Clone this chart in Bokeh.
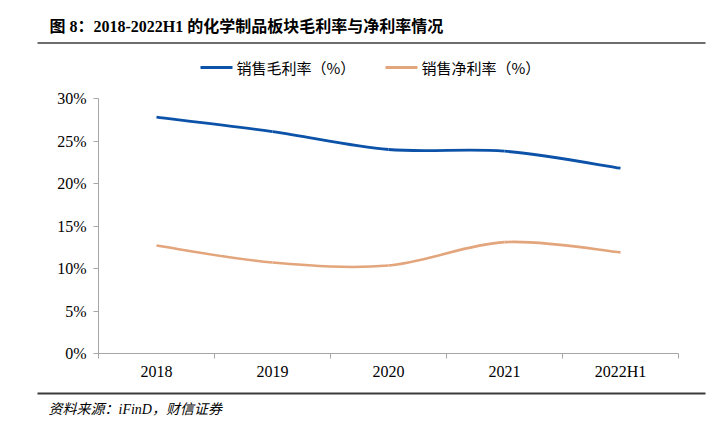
from bokeh.plotting import figure
from bokeh.models import Range1d, FixedTicker, ColumnDataSource
from bokeh.layouts import column
from bokeh.core.properties import value
from bokeh.embed import file_html
from bokeh.resources import INLINE

categories = ["2018", "2019", "2020", "2021", "2022H1"]
gross_margin = [27.8, 26.1, 24.0, 23.8, 21.8]
net_margin = [12.7, 10.7, 10.35, 13.1, 11.9]
y_ticks = [0, 5, 10, 15, 20, 25, 30]
y_tick_labels = ["0%", "5%", "10%", "15%", "20%", "25%", "30%"]

title_text = "图 8：2018-2022H1 的化学制品板块毛利率与净利率情况"
source_text = "资料来源：iFinD，财信证券"
legend_names = ["销售毛利率（%）", "销售净利率（%）"]
colors = ["#0b52a8", "#e3a57c"]

SERIF = "'Liberation Serif', 'Noto Sans CJK SC'"
SANS = "'Noto Sans CJK SC'"

W = 712
HEAD_H, MAIN_H, FOOT_H = 85, 305, 28   # page rows: 0-85, 85-390, 390-418


def pixel_fig(h, top):
    """A figure whose frame is the whole canvas, in page pixel units (y down)."""
    f = figure(width=W, height=h, output_backend="svg", toolbar_location=None,
               x_range=Range1d(0, W), y_range=Range1d(top + h, top),
               x_axis_location=None, y_axis_location=None, min_border=0)
    f.outline_line_color = None
    f.xgrid.visible = False
    f.ygrid.visible = False
    f.frame_align = False
    return f


# ---------- header: title, rule, legend ----------
head = pixel_fig(HEAD_H, 0)
head.text(x=[49], y=[25.5], text=[title_text], text_font=value(SERIF), text_font_style="bold",
          text_font_size="16px", text_baseline="middle", text_align="left", text_color="#000000")
head.segment(x0=[37], y0=[42.5], x1=[705], y1=[42.5], line_color="#6e6e6e", line_width=2)
for lx, name, col in [(200, legend_names[0], colors[0]), (385, legend_names[1], colors[1])]:
    head.segment(x0=[lx], y0=[67], x1=[lx + 32], y1=[67], line_color=col, line_width=2.8)
    head.text(x=[lx + 36], y=[67], text=[name], text_font=value(SANS), text_font_size="15px",
              text_baseline="middle", text_align="left", text_color="#000000")

# ---------- main chart ----------
FL, FR, FT, FB = 98, 678, 98, 353   # frame edges in page pixels
n = len(categories)
xs = list(range(n))

p = figure(width=W, height=MAIN_H, output_backend="svg", toolbar_location=None,
           min_border_left=FL, min_border_right=W - FR,
           min_border_top=FT - HEAD_H, min_border_bottom=HEAD_H + MAIN_H - FB,
           x_range=Range1d(-0.5, n - 0.5), y_range=Range1d(0, 30))
p.outline_line_color = None
p.xgrid.visible = False
p.ygrid.visible = False
p.frame_align = False


def smooth(xv, yv):
    x0, y0, x1, y1, cx0, cy0, cx1, cy1 = [], [], [], [], [], [], [], []
    for i in range(len(xv) - 1):
        pm = (xv[max(i - 1, 0)], yv[max(i - 1, 0)])
        pa = (xv[i], yv[i])
        pb = (xv[i + 1], yv[i + 1])
        pn = (xv[min(i + 2, len(xv) - 1)], yv[min(i + 2, len(xv) - 1)])
        x0.append(pa[0]); y0.append(pa[1]); x1.append(pb[0]); y1.append(pb[1])
        cx0.append(pa[0] + (pb[0] - pm[0]) / 6); cy0.append(pa[1] + (pb[1] - pm[1]) / 6)
        cx1.append(pb[0] - (pn[0] - pa[0]) / 6); cy1.append(pb[1] - (pn[1] - pa[1]) / 6)
    return ColumnDataSource(dict(x0=x0, y0=y0, x1=x1, y1=y1, cx0=cx0, cy0=cy0, cx1=cx1, cy1=cy1))


for vals, col, lw in [(gross_margin, colors[0], 2.8), (net_margin, colors[1], 2.6)]:
    p.bezier(x0="x0", y0="y0", x1="x1", y1="y1", cx0="cx0", cy0="cy0", cx1="cx1", cy1="cy1",
             source=smooth(xs, vals), line_color=col, line_width=lw)

axis_color = "#a6a6a6"
xa = p.xaxis[0]
xa.ticker = FixedTicker(ticks=xs, minor_ticks=[i - 0.5 for i in range(n + 1)])
xa.major_label_overrides = {i: c for i, c in enumerate(categories)}
xa.axis_line_color = axis_color
xa.major_tick_line_color = None
xa.major_tick_out = 0
xa.major_tick_in = 0
xa.minor_tick_line_color = axis_color
xa.minor_tick_out = 5
xa.minor_tick_in = 0
xa.major_label_standoff = 4
xa.major_label_text_font = SERIF
xa.major_label_text_font_size = "16px"
xa.major_label_text_color = "#000000"

ya = p.yaxis[0]
ya.ticker = FixedTicker(ticks=y_ticks)
ya.major_label_overrides = {t: l for t, l in zip(y_ticks, y_tick_labels)}
ya.axis_line_color = axis_color
ya.major_tick_line_color = axis_color
ya.major_tick_out = 5
ya.major_tick_in = 0
ya.minor_tick_line_color = None
ya.major_label_standoff = 7
ya.major_label_text_font = SERIF
ya.major_label_text_font_size = "16px"
ya.major_label_text_color = "#000000"

# ---------- footer: rule and source ----------
top_f = HEAD_H + MAIN_H
foot = pixel_fig(FOOT_H, top_f)
foot.segment(x0=[37], y0=[393], x1=[705], y1=[393], line_color="#3a3a3a", line_width=2)
foot.text(x=[48], y=[409], text=[source_text], text_font=value(SERIF), text_font_style="italic",
          text_font_size="14px", text_baseline="middle", text_align="left", text_color="#000000")

layout = column(head, p, foot, spacing=0)
open("out.html", "w").write(file_html(layout, INLINE))
